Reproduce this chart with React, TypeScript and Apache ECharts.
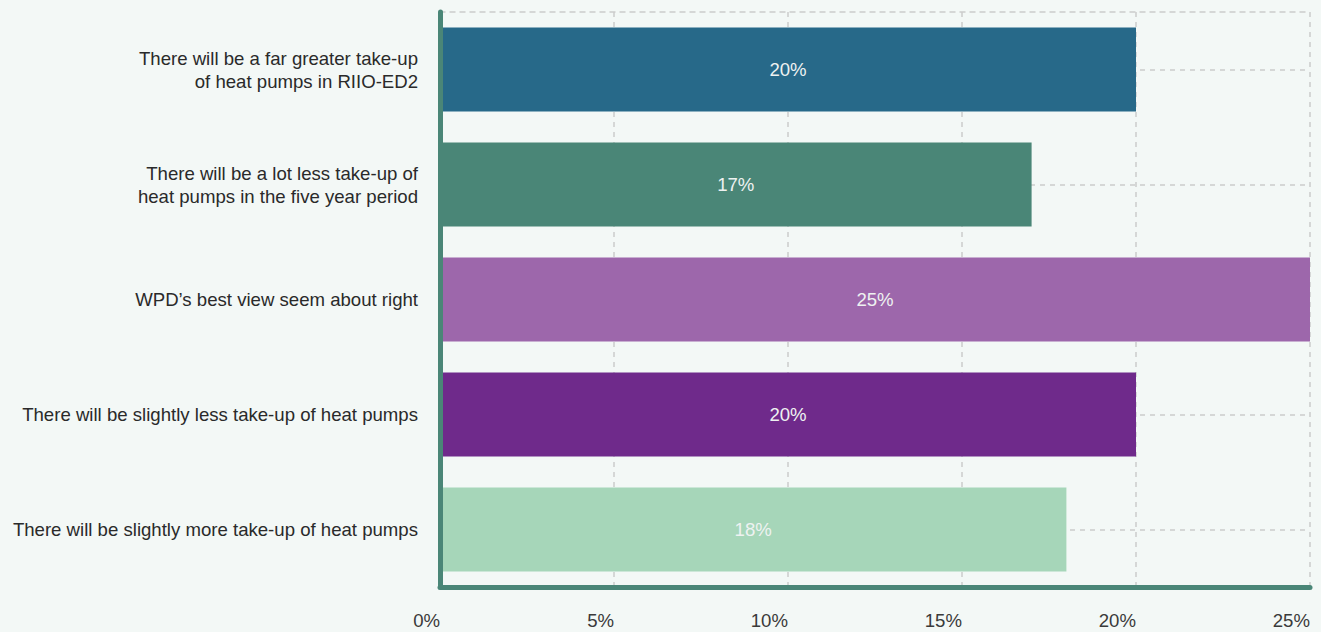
import React, { useEffect, useRef } from "react";
import * as echarts from "echarts";

const categories = [
  "There will be a far greater take-up\nof heat pumps in RIIO-ED2",
  "There will be a lot less take-up of\nheat pumps in the five year period",
  "WPD\u2019s best view seem about right",
  "There will be slightly less take-up of heat pumps",
  "There will be slightly more take-up of heat pumps",
];
const values = [20, 17, 25, 20, 18];
const barColors = ["#276989", "#4a8677", "#9d67ab", "#6f2a8b", "#a6d6b9"];
const xTicks = [0, 5, 10, 15, 20, 25];

const FONT = "'Liberation Sans', Arial, Helvetica, sans-serif";
const FS = 18.6;

export default function App() {
  const ref = useRef<HTMLDivElement>(null);
  useEffect(() => {
    if (!ref.current) return;
    const chart = echarts.init(ref.current, null, { renderer: "svg" });
    chart.setOption({
      animation: false,
      backgroundColor: "#f3f8f6",
      textStyle: { fontFamily: FONT },
      grid: { left: 440, right: 11, top: 12, bottom: 45, containLabel: false },
      xAxis: [
        {
          type: "value",
          min: xTicks[0],
          max: xTicks[xTicks.length - 1],
          interval: 5,
          axisLine: { show: true, lineStyle: { color: "#4a8677", width: 5, cap: "round" } },
          axisTick: { show: false },
          axisLabel: {
            formatter: (v: number) => v + "%",
            color: "#3a3a3a",
            fontSize: FS,
            fontFamily: FONT,
            align: "right",
            margin: 24,
            showMinLabel: true,
            showMaxLabel: true,
          },
          splitLine: { show: true, lineStyle: { color: "#cccccc", width: 1.5, type: [5, 5] } },
        },
        {
          type: "value",
          position: "top",
          min: xTicks[0],
          max: xTicks[xTicks.length - 1],
          interval: 5,
          axisLine: { show: true, lineStyle: { color: "#cccccc", width: 1.5, type: [5, 5] } },
          axisTick: { show: false },
          axisLabel: { show: false },
          splitLine: { show: false },
        },
      ],
      yAxis: {
        type: "category",
        data: categories,
        inverse: true,
        z: 10,
        axisLine: { show: true, lineStyle: { color: "#4a8677", width: 5, cap: "round" } },
        axisTick: { show: false },
        axisLabel: {
          color: "#2a2a2a",
          fontSize: FS,
          fontFamily: FONT,
          lineHeight: 23,
          margin: 22,
          align: "right",
        },
        splitLine: { show: false },
      },
      series: [
        {
          type: "line",
          data: [],
          z: 1,
          silent: true,
          markLine: {
            silent: true,
            z: 1,
            symbol: "none",
            label: { show: false },
            lineStyle: { color: "#cccccc", width: 1.5, type: [5, 5] },
            data: categories.map((c) => ({ yAxis: c })),
          },
        },
        {
          type: "bar",
          z: 3,
          barWidth: "73%",
          data: values.map((v, i) => ({ value: v, itemStyle: { color: barColors[i] } })),
          label: {
            show: true,
            position: "inside",
            color: "#eef2f1",
            fontSize: FS,
            fontFamily: FONT,
            formatter: (p: any) => Math.round(p.value) + "%",
          },
        },
      ],
    });
    return () => chart.dispose();
  }, []);
  return (
    <div
      ref={ref}
      style={{ position: "fixed", left: 0, top: 0, width: 1321, height: 632 }}
    />
  );
}
